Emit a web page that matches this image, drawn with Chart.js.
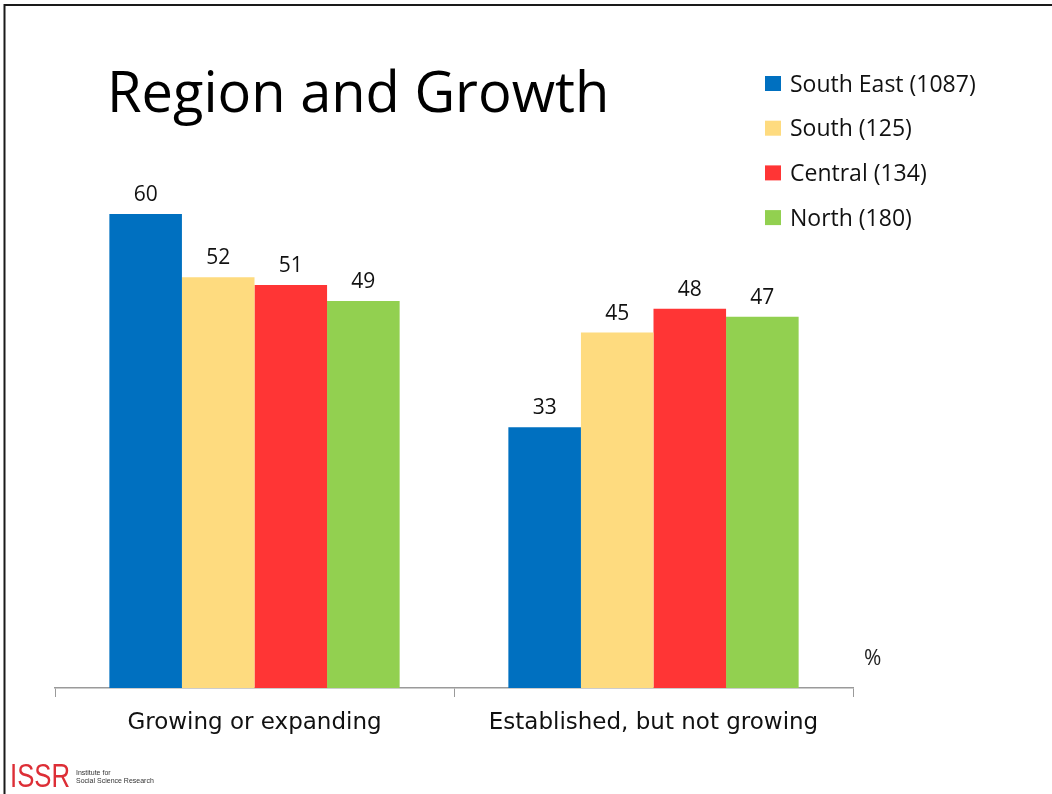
<!DOCTYPE html>
<html>
<head>
<meta charset="utf-8">
<title>Region and Growth</title>
<script src="https://cdn.jsdelivr.net/npm/chart.js@4.4.0/dist/chart.umd.min.js"></script>
<style>
  html, body { margin: 0; padding: 0; background: #fff; }
  #wrap { width: 1052px; height: 794px; position: relative; }
</style>
</head>
<body>
<div id="wrap"><canvas id="growth-chart" width="1052" height="794"></canvas></div>
<script>
// categories along the x axis
const categories = ['Growing or expanding', 'Established, but not growing'];

// one series per region, sample size in the label
const regionLabels = ['South East (1087)', 'South (125)', 'Central (134)', 'North (180)'];
const southEast = [60, 33];
const south = [52, 45];
const central = [51, 48];
const north = [49, 47];

const regionColors = ['#0070C0', '#FEDB7F', '#FF3535', '#92D050'];

const seriesValues = [southEast, south, central, north];

// white slide, the thin frame, the title, the unit sign and the institute mark
const slideDecor = {
    id: 'slideDecor',
    beforeDraw(chart) {
        const ctx = chart.ctx;
        ctx.save();
        ctx.fillStyle = '#fff';
        ctx.fillRect(0, 0, chart.width, chart.height);
        ctx.strokeStyle = '#1a1a1a';
        ctx.lineWidth = 2;
        ctx.beginPath();
        ctx.moveTo(4.5, chart.height);
        ctx.lineTo(4.5, 5);
        ctx.lineTo(chart.width, 5);
        ctx.stroke();
        ctx.restore();
    },
    afterDraw(chart) {
        const ctx = chart.ctx;
        ctx.save();
        ctx.fillStyle = '#000';
        ctx.textBaseline = 'alphabetic';
        ctx.font = '56px "Open Sans"';
        ctx.fillText('Region and Growth', 107, 112);

        ctx.fillStyle = '#222';
        ctx.font = '21px "Open Sans"';
        ctx.fillText('%', 864, 665);

        // ISSR mark, bottom left
        ctx.save();
        ctx.translate(10, 787);
        ctx.scale(0.78, 1);
        ctx.fillStyle = '#DD2E36';
        ctx.font = '33px "Liberation Sans"';
        ctx.fillText('ISSR', 0, 0);
        ctx.restore();
        ctx.fillStyle = '#333';
        ctx.font = '7px "Liberation Sans"';
        ctx.fillText('Institute for', 76, 775);
        ctx.fillText('Social Science Research', 76, 783);
        ctx.restore();
    }
};

// legend stacked at the top right, drawn from the datasets
const sideLegend = {
    id: 'sideLegend',
    afterDraw(chart) {
        const ctx = chart.ctx;
        ctx.save();
        ctx.font = '23px "Open Sans"';
        ctx.textBaseline = 'middle';
        chart.data.datasets.forEach((ds, i) => {
            const cy = 84 + i * 44.7;
            ctx.fillStyle = ds.backgroundColor;
            ctx.fillRect(765, cy - 8, 16, 15);
            ctx.fillStyle = '#111';
            ctx.fillText(ds.label, 790, cy + 1);
        });
        ctx.restore();
    }
};

// value above every bar
const barValues = {
    id: 'barValues',
    afterDatasetsDraw(chart) {
        const ctx = chart.ctx;
        ctx.save();
        ctx.font = '21px "Open Sans"';
        ctx.fillStyle = '#111';
        ctx.textAlign = 'center';
        ctx.textBaseline = 'alphabetic';
        chart.data.datasets.forEach((ds, i) => {
            chart.getDatasetMeta(i).data.forEach((bar, j) => {
                ctx.fillText(String(ds.data[j]), bar.x, bar.y - 13);
            });
        });
        ctx.restore();
    }
};

new Chart('growth-chart', {
    type: 'bar',
    data: {
        labels: categories,
        datasets: regionLabels.map((label, i) => ({
            label: label,
            data: seriesValues[i],
            backgroundColor: regionColors[i],
            borderWidth: 0
        }))
    },
    options: {
        responsive: false,
        animation: false,
        devicePixelRatio: 1,
        layout: { padding: { left: 55, right: 199, top: 135, bottom: 0 } },
        datasets: {
            bar: { barPercentage: 1, categoryPercentage: 0.7275 }
        },
        plugins: {
            legend: { display: false },
            title: { display: false },
            tooltip: { enabled: false }
        },
        scales: {
            x: {
                afterFit(scale) { scale.height = 106; },
                grid: {
                    offset: true,
                    drawOnChartArea: false,
                    drawTicks: true,
                    tickLength: 9,
                    color: '#9a9a9a'
                },
                border: { color: '#9a9a9a', width: 1.5 },
                ticks: {
                    color: '#111',
                    padding: 12,
                    font: { family: '"DejaVu Sans"', size: 23 }
                }
            },
            y: {
                display: false,
                min: 0,
                max: 70
            }
        }
    },
    plugins: [slideDecor, sideLegend, barValues]
});
</script>
</body>
</html>
